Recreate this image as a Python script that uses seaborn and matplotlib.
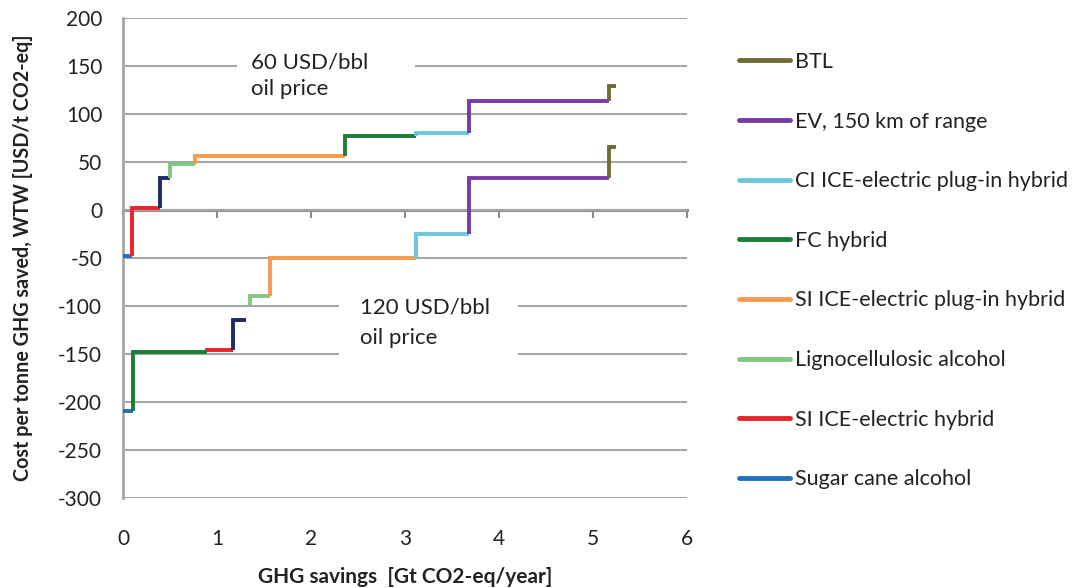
import pandas as pd
import matplotlib
matplotlib.use("Agg")
import matplotlib.pyplot as plt
from matplotlib.lines import Line2D
from matplotlib.patches import Rectangle
import seaborn as sns

# legend entries (top to bottom) and their colours
techs = ["BTL", "EV, 150 km of range", "CI ICE-electric plug-in hybrid",
         "FC hybrid", "SI ICE-electric plug-in hybrid",
         "Lignocellulosic alcohol", "SI ICE-electric hybrid",
         "Sugar cane alcohol"]
tech_colours = ["#6e6b34", "#7a3aa6", "#6cc8dc", "#1a7d3c",
                "#f79a4d", "#80c77f", "#e8232c", "#2071c1"]
# series without a legend entry (dark blue step)
other_tech = "other"
other_colour = "#1d2a66"

# 60 USD/bbl oil price curve, left to right
curve60_tech = ["Sugar cane alcohol", "SI ICE-electric hybrid", other_tech,
                "Lignocellulosic alcohol", "SI ICE-electric plug-in hybrid",
                "FC hybrid", "CI ICE-electric plug-in hybrid",
                "EV, 150 km of range", "BTL"]
curve60_start = [0.00, 0.10, 0.39, 0.50, 0.77, 2.36, 3.12, 3.68, 5.17]
curve60_end = [0.10, 0.39, 0.50, 0.77, 2.36, 3.12, 3.68, 5.17, 5.25]
curve60_cost = [-48, 2, 33, 48, 56, 77, 80, 114, 129]
curve60_from = [-48, -48, 2, 33, 48, 56, 77, 80, 114]

# 120 USD/bbl oil price curve, left to right
curve120_tech = ["Sugar cane alcohol", "FC hybrid", "SI ICE-electric hybrid",
                 other_tech, "Lignocellulosic alcohol",
                 "SI ICE-electric plug-in hybrid",
                 "CI ICE-electric plug-in hybrid", "EV, 150 km of range", "BTL"]
curve120_start = [0.00, 0.11, 0.89, 1.17, 1.35, 1.56, 3.12, 3.68, 5.17]
curve120_end = [0.11, 0.89, 1.17, 1.31, 1.56, 3.12, 3.68, 5.17, 5.25]
curve120_cost = [-209, -148, -146, -115, -90, -50, -25, 33, 66]
curve120_from = [-209, -209, -148, -146, -100, -90, -50, -25, 33]

x_ticks = [0, 1, 2, 3, 4, 5, 6]
y_ticks = [-300, -250, -200, -150, -100, -50, 0, 50, 100, 150, 200]


def build_steps(name, tech, start, end, cost, base):
    rows = []
    for i in range(len(tech)):
        seg = f"{name}-{i}"
        rows.append({"seg": seg, "tech": tech[i], "x": start[i], "y": base[i]})
        rows.append({"seg": seg, "tech": tech[i], "x": start[i], "y": cost[i]})
        rows.append({"seg": seg, "tech": tech[i], "x": end[i], "y": cost[i]})
    return rows


df = pd.DataFrame(
    build_steps("60", curve60_tech, curve60_start, curve60_end,
                curve60_cost, curve60_from)
    + build_steps("120", curve120_tech, curve120_start, curve120_end,
                  curve120_cost, curve120_from))

palette = dict(zip(techs, tech_colours))
palette[other_tech] = other_colour

sns.set_style("white")
plt.rcParams["font.family"] = ["Lato", "DejaVu Sans"]
plt.rcParams["axes.unicode_minus"] = False
grey = "#a6a6a6"
ink = "#222222"

fig = plt.figure(figsize=(10.77, 5.88), dpi=100)
ax = fig.add_axes([123 / 1077, 1 - 498 / 588, 564 / 1077, 480 / 588])

sns.lineplot(data=df, x="x", y="y", hue="tech", units="seg",
             estimator=None, sort=False, palette=palette, linewidth=2.8,
             legend=False, ax=ax, zorder=3,
             solid_capstyle="butt", solid_joinstyle="miter")

ax.set_xlim(0, 6)
ax.set_ylim(-300, 200)
ax.set_xticks(x_ticks)
ax.set_yticks(y_ticks)
ax.set_axisbelow(True)
ax.grid(axis="y", color=grey, linewidth=1.5)
ax.grid(axis="x", visible=False)

for side in ["top", "right", "bottom"]:
    ax.spines[side].set_visible(False)
ax.spines["left"].set_color(grey)
ax.spines["left"].set_linewidth(2)

ax.tick_params(axis="x", length=0, pad=22, labelsize=15, labelcolor=ink)
ax.tick_params(axis="y", length=7, width=1.5, color=grey, pad=8,
               labelsize=15, labelcolor=ink)

# zero line carrying the x tick marks
zero_axis = ax.secondary_xaxis((0 - (-300)) / 500)
zero_axis.set_alignment("bottom")
zero_axis.set_xticks(x_ticks)
zero_axis.tick_params(length=6, width=1.5, color="#8c8c8c", labelbottom=False)
zero_axis.spines["bottom"].set_color("#8c8c8c")
zero_axis.spines["bottom"].set_linewidth(2.2)

ax.set_xlabel("GHG savings  [Gt CO2-eq/year]", fontsize=15,
              fontweight="bold", labelpad=13, color=ink)
ax.set_ylabel("Cost per tonne GHG saved, WTW [USD/t CO2-eq]", fontsize=14.2,
              fontweight="bold", labelpad=18, color=ink)

# oil price annotations on white boxes
ax.add_patch(Rectangle((1.21, 108), 1.90, 77, facecolor="white",
                       edgecolor="none", zorder=1.5))
ax.text(1.36, 154, "60 USD/bbl", fontsize=16, va="center", color=ink)
ax.text(1.36, 126, "oil price", fontsize=16, va="center", color=ink)
ax.add_patch(Rectangle((2.30, -175), 1.90, 115, facecolor="white",
                       edgecolor="none", zorder=1.5))
ax.text(2.52, -102, "120 USD/bbl", fontsize=16, va="center", color=ink)
ax.text(2.52, -133, "oil price", fontsize=16, va="center", color=ink)

handles = [Line2D([], [], color=c, linewidth=3.5) for c in tech_colours]
fig.legend(handles, techs, loc="upper left",
           bbox_to_anchor=(739 / 1077, 1 - 52 / 588),
           frameon=False, fontsize=15.5, handlelength=2.37, handletextpad=0.25,
           labelspacing=1.84, borderpad=0, borderaxespad=0, labelcolor=ink)

fig.savefig("out.png", dpi=100)
